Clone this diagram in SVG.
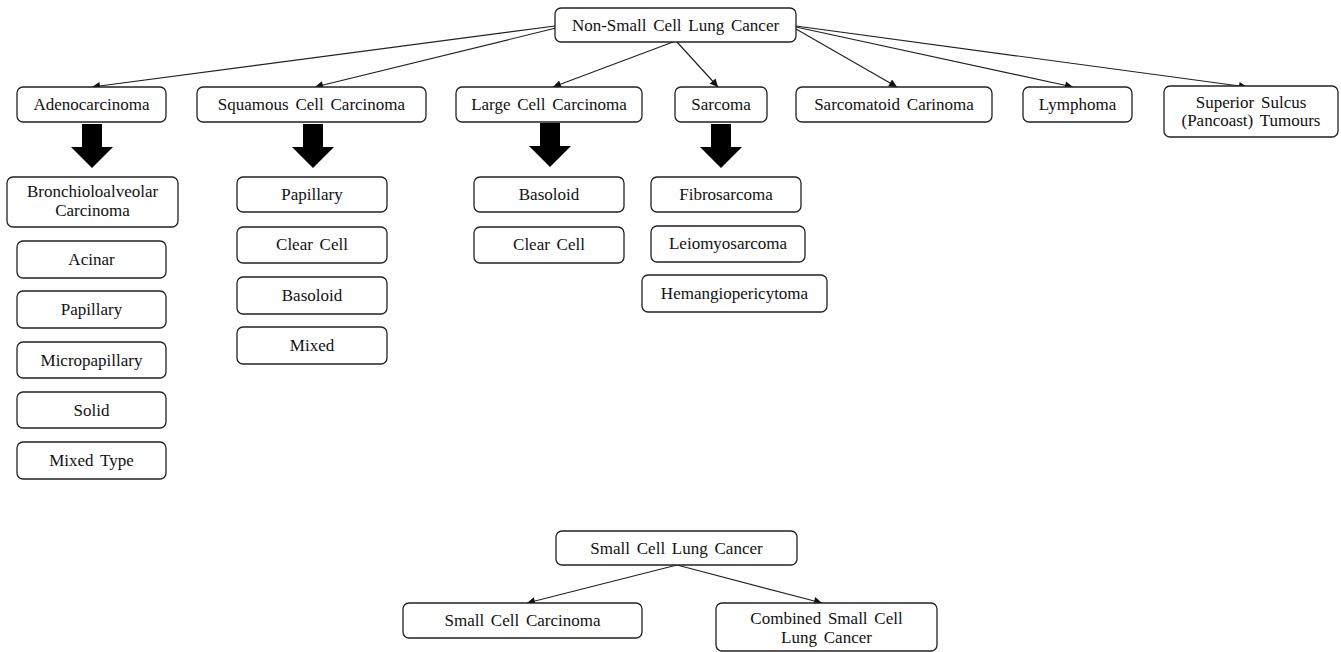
<svg xmlns="http://www.w3.org/2000/svg" width="1341" height="652" viewBox="0 0 1341 652">
<style>
.b{fill:#fff;stroke:#222;stroke-width:1.3}
.t{font-family:'Liberation Serif','Times New Roman','DejaVu Serif',serif;font-size:17px;fill:#111;text-anchor:middle;word-spacing:2.5px}
.c{stroke:#222;stroke-width:1.2;fill:none;marker-end:url(#ah)}
.blk{fill:#000}
</style>
<defs>
<marker id="ah" viewBox="0 0 10 10" refX="10" refY="5" markerWidth="10" markerHeight="8" markerUnits="userSpaceOnUse" orient="auto">
<path d="M0,0 L10,5 L0,10 z" fill="#111"/>
</marker>
<path id="big" d="M-10,0 H10 V23 H21 L0,44 L-21,23 H-10 Z"/>
</defs>
<rect width="1341" height="652" fill="#fff"/>
<g id="connectors">
<line class="c" x1="555" y1="26" x2="92" y2="87"/>
<line class="c" x1="556" y1="28" x2="315" y2="87"/>
<line class="c" x1="673" y1="42" x2="553" y2="87"/>
<line class="c" x1="677" y1="42" x2="718" y2="87"/>
<line class="c" x1="796" y1="29" x2="897" y2="87"/>
<line class="c" x1="796" y1="27" x2="1073" y2="87"/>
<line class="c" x1="796" y1="26" x2="1247" y2="87"/>
<line class="c" x1="677" y1="565" x2="527" y2="603"/>
<line class="c" x1="677" y1="565" x2="822" y2="603"/>
<use href="#big" class="blk" x="92" y="124"/>
<use href="#big" class="blk" x="313" y="124"/>
<use href="#big" class="blk" x="550" y="123"/>
<use href="#big" class="blk" x="721" y="124"/>
</g>
<g font-family="Liberation Serif, Times New Roman, DejaVu Serif, serif">
<g id="nsclc"><rect class="b" x="555" y="8" width="241" height="34" rx="6"/><text class="t" x="675.5" y="31">Non-Small Cell Lung Cancer</text></g>
<g id="adeno"><rect class="b" x="17" y="87" width="149" height="35" rx="6"/><text class="t" x="91.5" y="110">Adenocarcinoma</text></g>
<g id="squamous"><rect class="b" x="197" y="87" width="229" height="35" rx="6"/><text class="t" x="311.5" y="110">Squamous Cell Carcinoma</text></g>
<g id="large"><rect class="b" x="456" y="87" width="186" height="35" rx="6"/><text class="t" x="549" y="110">Large Cell Carcinoma</text></g>
<g id="sarcoma"><rect class="b" x="675" y="87" width="92" height="35" rx="6"/><text class="t" x="721" y="110">Sarcoma</text></g>
<g id="sarcomatoid"><rect class="b" x="796" y="87" width="196" height="35" rx="6"/><text class="t" x="894" y="110">Sarcomatoid Carinoma</text></g>
<g id="lymphoma"><rect class="b" x="1023" y="87" width="109" height="35" rx="6"/><text class="t" x="1077.5" y="110">Lymphoma</text></g>
<g id="superior"><rect class="b" x="1164" y="86" width="174" height="51" rx="6"/><text class="t" x="1251" y="108">Superior Sulcus</text><text class="t" x="1251" y="126">(Pancoast) Tumours</text></g>
<g id="bronch"><rect class="b" x="7" y="177" width="171" height="50" rx="6"/><text class="t" x="92.5" y="197">Bronchioloalveolar</text><text class="t" x="92.5" y="216">Carcinoma</text></g>
<g id="acinar"><rect class="b" x="17" y="241" width="149" height="37" rx="6"/><text class="t" x="91.5" y="265">Acinar</text></g>
<g id="papillary1"><rect class="b" x="17" y="291" width="149" height="37" rx="6"/><text class="t" x="91.5" y="315">Papillary</text></g>
<g id="micropapillary"><rect class="b" x="17" y="342" width="149" height="36" rx="6"/><text class="t" x="91.5" y="366">Micropapillary</text></g>
<g id="solid"><rect class="b" x="17" y="392" width="149" height="36" rx="6"/><text class="t" x="91.5" y="416">Solid</text></g>
<g id="mixedtype"><rect class="b" x="17" y="442" width="149" height="37" rx="6"/><text class="t" x="91.5" y="466">Mixed Type</text></g>
<g id="papillary2"><rect class="b" x="237" y="177" width="150" height="35" rx="6"/><text class="t" x="312" y="200">Papillary</text></g>
<g id="clearcell1"><rect class="b" x="237" y="227" width="150" height="36" rx="6"/><text class="t" x="312" y="250">Clear Cell</text></g>
<g id="basoloid1"><rect class="b" x="237" y="277" width="150" height="37" rx="6"/><text class="t" x="312" y="301">Basoloid</text></g>
<g id="mixed"><rect class="b" x="237" y="327" width="150" height="37" rx="6"/><text class="t" x="312" y="351">Mixed</text></g>
<g id="basoloid2"><rect class="b" x="474" y="177" width="150" height="35" rx="6"/><text class="t" x="549" y="200">Basoloid</text></g>
<g id="clearcell2"><rect class="b" x="474" y="227" width="150" height="36" rx="6"/><text class="t" x="549" y="250">Clear Cell</text></g>
<g id="fibrosarcoma"><rect class="b" x="651" y="177" width="150" height="35" rx="6"/><text class="t" x="726" y="200">Fibrosarcoma</text></g>
<g id="leiomyosarcoma"><rect class="b" x="651" y="226" width="154" height="36" rx="6"/><text class="t" x="728" y="249">Leiomyosarcoma</text></g>
<g id="hemangiopericytoma"><rect class="b" x="642" y="275" width="185" height="37" rx="6"/><text class="t" x="734.5" y="299">Hemangiopericytoma</text></g>
<g id="sclc"><rect class="b" x="556" y="531" width="241" height="34" rx="6"/><text class="t" x="676.5" y="554">Small Cell Lung Cancer</text></g>
<g id="scc"><rect class="b" x="403" y="603" width="239" height="35" rx="6"/><text class="t" x="522.5" y="626">Small Cell Carcinoma</text></g>
<g id="combined"><rect class="b" x="716" y="603" width="221" height="48" rx="6"/><text class="t" x="826.5" y="624">Combined Small Cell</text><text class="t" x="826.5" y="643">Lung Cancer</text></g>
</g>
</svg>
